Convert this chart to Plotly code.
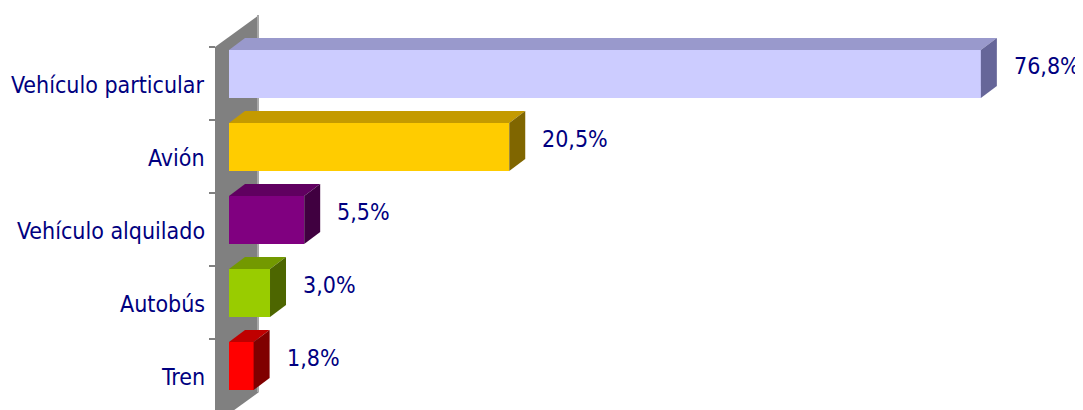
import plotly.graph_objects as go

# ---- data ----
categories = ["Vehículo particular", "Avión", "Vehículo alquilado", "Autobús", "Tren"]
values = [76.8, 20.5, 5.5, 3.0, 1.8]
value_labels = ["76,8%", "20,5%", "5,5%", "3,0%", "1,8%"]
front_colors = ["#CCCCFF", "#FFCC00", "#800080", "#99CC00", "#FF0000"]
top_colors = ["#9999CC", "#C49A00", "#600060", "#739900", "#BF0000"]
side_colors = ["#666699", "#806600", "#400040", "#4D6600", "#800000"]
AXIS_MAX = 55  # value axis maximum (longer bars are cut at the plot edge)

# ---- layout geometry (pixels in the 1083x410 window) ----
WIN_W, WIN_H = 1083, 410
PAGE_MARGIN = 8                      # default body margin of the html page
W, H = WIN_W - PAGE_MARGIN, WIN_H - PAGE_MARGIN
ORIGIN_PX = 229          # pixel x of value 0 on the bar plane
PX_PER_UNIT = 13.67      # pixels per percentage point
CAT0_PX = 74             # pixel y of first category centre (bar plane)
PX_PER_CAT = 73          # pixels per category
BAR_W = 48 / PX_PER_CAT
DX = 16 / PX_PER_UNIT    # bar depth, x
DY = 12 / PX_PER_CAT     # bar depth, y

def X(px):
    return (px - ORIGIN_PX) / PX_PER_UNIT

def Y(py):
    return (py - CAT0_PX) / PX_PER_CAT

FONT = "DejaVu Sans Condensed, DejaVu Sans, sans-serif"
NAVY = "#000080"

fig = go.Figure()
idx = list(range(len(categories)))
shown = [min(v, AXIS_MAX) for v in values]

shapes = []
# wall (side wall of the 3D chart)
wall = [(215, 47), (259, 15), (259, 392), (215, 424)]
path = "M " + " L ".join(f"{X(a)},{Y(b)}" for a, b in wall) + " Z"
shapes.append(dict(type="path", path=path, xref="x", yref="y", layer="below",
                   fillcolor="#808080", line=dict(width=0)))
shapes.append(dict(type="line", xref="x", yref="y", layer="below",
                   x0=X(258), x1=X(258), y0=Y(15), y1=Y(392),
                   line=dict(color="#A8A8A8", width=2)))
# tick marks on the wall's front edge
for k in range(len(categories) + 1):
    ty = Y(47 + PX_PER_CAT * k)
    shapes.append(dict(type="line", xref="x", yref="y", layer="below",
                       x0=X(209), x1=X(215), y0=ty, y1=ty,
                       line=dict(color="#808080", width=2)))

# front faces
fig.add_trace(go.Bar(x=shown, y=idx, orientation="h", width=BAR_W,
                     marker=dict(color=front_colors, line=dict(width=0)),
                     hoverinfo="skip", showlegend=False))

h = BAR_W / 2
for i, xc in enumerate(shown):
    # top face
    fig.add_trace(go.Scatter(
        x=[0, xc, xc + DX, DX, 0],
        y=[i - h, i - h, i - h - DY, i - h - DY, i - h],
        fill="toself", fillcolor=top_colors[i], line=dict(width=0),
        mode="lines", hoverinfo="skip", showlegend=False))
    # side face
    fig.add_trace(go.Scatter(
        x=[xc, xc + DX, xc + DX, xc, xc],
        y=[i - h, i - h - DY, i + h - DY, i + h, i - h],
        fill="toself", fillcolor=side_colors[i], line=dict(width=0),
        mode="lines", hoverinfo="skip", showlegend=False))
    # value label
    fig.add_annotation(x=xc, y=i, text=value_labels[i], showarrow=False,
                       xanchor="left", yanchor="middle", xshift=31, yshift=8,
                       font=dict(family=FONT, size=23, color=NAVY))
    # category label
    fig.add_annotation(x=(207 - PAGE_MARGIN) / W, xref="paper", y=i, text=categories[i],
                       showarrow=False, xanchor="right", yanchor="middle", yshift=-11,
                       font=dict(family=FONT, size=23, color=NAVY))

fig.update_layout(
    width=W, height=H,
    margin=dict(l=0, r=0, t=0, b=0),
    paper_bgcolor="white", plot_bgcolor="white",
    xaxis=dict(range=[X(PAGE_MARGIN), X(WIN_W)], visible=False, fixedrange=True),
    yaxis=dict(range=[Y(WIN_H), Y(PAGE_MARGIN)], visible=False, fixedrange=True),
    bargap=0,
    shapes=shapes,
)

fig.write_html("out.html")
